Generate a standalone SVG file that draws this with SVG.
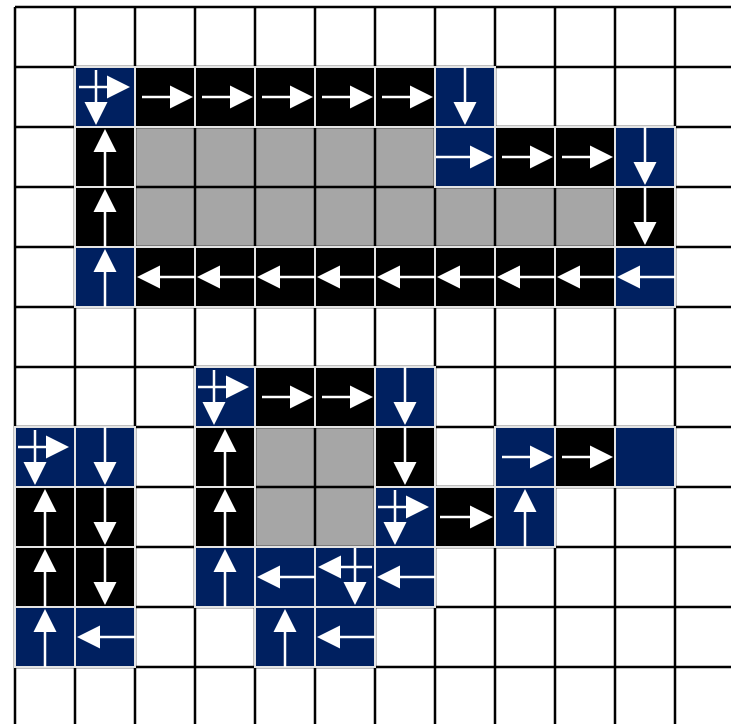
<svg xmlns="http://www.w3.org/2000/svg" width="731" height="724" viewBox="0 0 731 724">
<defs>
<style>
.g{fill:#a6a6a6}
.k{fill:#000;stroke:#e4e4e4;stroke-width:2}
.n{fill:#002060;stroke:#e4e4e4;stroke-width:2}
.grid line{stroke:#000;stroke-width:2.5}
.ar line{stroke:#fff;stroke-width:2.5;marker-end:url(#ah)}
.ar line.p{marker-end:none}
</style>
<marker id="ah" markerUnits="userSpaceOnUse" markerWidth="24" markerHeight="24" refX="0" refY="11.5" orient="auto" overflow="visible"><path d="M0,0 L23,11.5 L0,23 z" fill="#fff"/></marker>
</defs>
<rect width="731" height="724" fill="#fff"/>
<g id="gray-cells">
<rect class="g" x="135" y="127" width="300" height="60"/>
<rect class="g" x="135" y="187" width="480" height="60"/>
<rect class="g" x="255" y="427" width="120" height="120"/>
</g>
<g id="grid" class="grid">
<line x1="15" y1="7" x2="15" y2="724"/><line x1="75" y1="7" x2="75" y2="724"/><line x1="135" y1="7" x2="135" y2="724"/><line x1="195" y1="7" x2="195" y2="724"/><line x1="255" y1="7" x2="255" y2="724"/><line x1="315" y1="7" x2="315" y2="724"/><line x1="375" y1="7" x2="375" y2="724"/><line x1="435" y1="7" x2="435" y2="724"/><line x1="495" y1="7" x2="495" y2="724"/><line x1="555" y1="7" x2="555" y2="724"/><line x1="615" y1="7" x2="615" y2="724"/><line x1="675" y1="7" x2="675" y2="724"/>
<line x1="15" y1="7" x2="731" y2="7"/><line x1="15" y1="67" x2="731" y2="67"/><line x1="15" y1="127" x2="731" y2="127"/><line x1="15" y1="187" x2="731" y2="187"/><line x1="15" y1="247" x2="731" y2="247"/><line x1="15" y1="307" x2="731" y2="307"/><line x1="15" y1="367" x2="731" y2="367"/><line x1="15" y1="427" x2="731" y2="427"/><line x1="15" y1="487" x2="731" y2="487"/><line x1="15" y1="547" x2="731" y2="547"/><line x1="15" y1="607" x2="731" y2="607"/><line x1="15" y1="667" x2="731" y2="667"/>
</g>
<g id="cells">
<g id="r1"><rect class="n" x="75" y="67" width="60" height="60"/><rect class="k" x="135" y="67" width="60" height="60"/><rect class="k" x="195" y="67" width="60" height="60"/><rect class="k" x="255" y="67" width="60" height="60"/><rect class="k" x="315" y="67" width="60" height="60"/><rect class="k" x="375" y="67" width="60" height="60"/><rect class="n" x="435" y="67" width="60" height="60"/></g>
<g id="r2"><rect class="k" x="75" y="127" width="60" height="60"/><rect class="n" x="435" y="127" width="60" height="60"/><rect class="k" x="495" y="127" width="60" height="60"/><rect class="k" x="555" y="127" width="60" height="60"/><rect class="n" x="615" y="127" width="60" height="60"/></g>
<g id="r3"><rect class="k" x="75" y="187" width="60" height="60"/><rect class="k" x="615" y="187" width="60" height="60"/></g>
<g id="r4"><rect class="n" x="75" y="247" width="60" height="60"/><rect class="k" x="135" y="247" width="60" height="60"/><rect class="k" x="195" y="247" width="60" height="60"/><rect class="k" x="255" y="247" width="60" height="60"/><rect class="k" x="315" y="247" width="60" height="60"/><rect class="k" x="375" y="247" width="60" height="60"/><rect class="k" x="435" y="247" width="60" height="60"/><rect class="k" x="495" y="247" width="60" height="60"/><rect class="k" x="555" y="247" width="60" height="60"/><rect class="n" x="615" y="247" width="60" height="60"/></g>
<g id="r6"><rect class="n" x="195" y="367" width="60" height="60"/><rect class="k" x="255" y="367" width="60" height="60"/><rect class="k" x="315" y="367" width="60" height="60"/><rect class="n" x="375" y="367" width="60" height="60"/></g>
<g id="r7"><rect class="n" x="15" y="427" width="60" height="60"/><rect class="n" x="75" y="427" width="60" height="60"/><rect class="k" x="195" y="427" width="60" height="60"/><rect class="k" x="375" y="427" width="60" height="60"/><rect class="n" x="495" y="427" width="60" height="60"/><rect class="k" x="555" y="427" width="60" height="60"/><rect class="n" x="615" y="427" width="60" height="60"/></g>
<g id="r8"><rect class="k" x="15" y="487" width="60" height="60"/><rect class="k" x="75" y="487" width="60" height="60"/><rect class="k" x="195" y="487" width="60" height="60"/><rect class="n" x="375" y="487" width="60" height="60"/><rect class="k" x="435" y="487" width="60" height="60"/><rect class="n" x="495" y="487" width="60" height="60"/></g>
<g id="r9"><rect class="k" x="15" y="547" width="60" height="60"/><rect class="k" x="75" y="547" width="60" height="60"/><rect class="n" x="195" y="547" width="60" height="60"/><rect class="n" x="255" y="547" width="60" height="60"/><rect class="n" x="315" y="547" width="60" height="60"/><rect class="n" x="375" y="547" width="60" height="60"/></g>
<g id="r10"><rect class="n" x="15" y="607" width="60" height="60"/><rect class="n" x="75" y="607" width="60" height="60"/><rect class="n" x="255" y="607" width="60" height="60"/><rect class="n" x="315" y="607" width="60" height="60"/></g>
</g>
<g id="connectors" class="ar">
<!-- right -->
<line x1="142" y1="97" x2="170" y2="97"/><line x1="202" y1="97" x2="230" y2="97"/><line x1="262" y1="97" x2="290" y2="97"/><line x1="322" y1="97" x2="350" y2="97"/><line x1="382" y1="97" x2="410" y2="97"/>
<line x1="436" y1="157" x2="470" y2="157"/><line x1="502" y1="157" x2="530" y2="157"/><line x1="562" y1="157" x2="590" y2="157"/>
<line x1="262" y1="397" x2="290" y2="397"/><line x1="322" y1="397" x2="350" y2="397"/>
<line x1="502" y1="457" x2="530" y2="457"/><line x1="562" y1="457" x2="590" y2="457"/>
<line x1="440" y1="517" x2="470" y2="517"/>
<!-- down -->
<line x1="465" y1="67" x2="465" y2="102"/><line x1="645" y1="127" x2="645" y2="162"/><line x1="645" y1="187" x2="645" y2="222"/>
<line x1="405" y1="367" x2="405" y2="402"/><line x1="105" y1="427" x2="105" y2="462"/><line x1="405" y1="427" x2="405" y2="462"/>
<line x1="105" y1="487" x2="105" y2="522"/><line x1="105" y1="547" x2="105" y2="582"/>
<!-- up -->
<line x1="105" y1="187" x2="105" y2="152"/><line x1="105" y1="247" x2="105" y2="212"/><line x1="105" y1="307" x2="105" y2="272"/>
<line x1="225" y1="487" x2="225" y2="452"/><line x1="45" y1="547" x2="45" y2="512"/><line x1="225" y1="547" x2="225" y2="512"/><line x1="525" y1="547" x2="525" y2="512"/>
<line x1="45" y1="607" x2="45" y2="572"/><line x1="225" y1="607" x2="225" y2="572"/>
<line x1="45" y1="667" x2="45" y2="632"/><line x1="285" y1="667" x2="285" y2="632"/>
<!-- left -->
<line x1="195" y1="277" x2="160" y2="277"/><line x1="255" y1="277" x2="220" y2="277"/><line x1="315" y1="277" x2="280" y2="277"/><line x1="375" y1="277" x2="340" y2="277"/><line x1="435" y1="277" x2="400" y2="277"/><line x1="495" y1="277" x2="460" y2="277"/><line x1="555" y1="277" x2="520" y2="277"/><line x1="615" y1="277" x2="580" y2="277"/><line x1="675" y1="277" x2="640" y2="277"/>
<line x1="315" y1="577" x2="280" y2="577"/><line x1="435" y1="577" x2="400" y2="577"/>
<line x1="135" y1="637" x2="100" y2="637"/><line x1="375" y1="637" x2="340" y2="637"/>
<!-- split cells -->
<line x1="79" y1="87" x2="107" y2="87"/><line x1="96" y1="70" x2="96" y2="102"/>
<line x1="198" y1="387" x2="226" y2="387"/><line x1="214" y1="370" x2="214" y2="402"/>
<line x1="18" y1="447" x2="46" y2="447"/><line x1="35" y1="430" x2="35" y2="462"/>
<line x1="378" y1="507" x2="406" y2="507"/><line x1="395" y1="490" x2="395" y2="522"/>
<line x1="372" y1="567" x2="341" y2="567"/><line x1="355" y1="548" x2="355" y2="582"/>
</g>
</svg>
